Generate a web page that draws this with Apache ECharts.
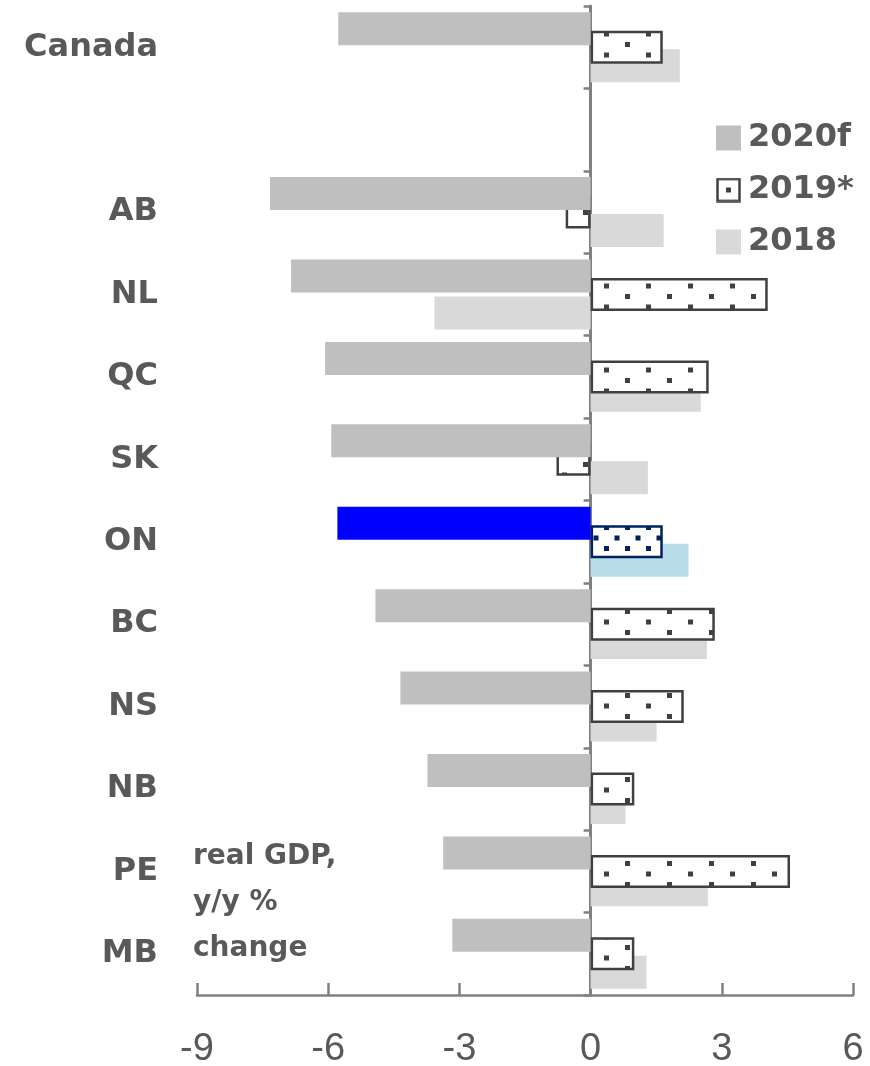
<!DOCTYPE html>
<html lang="en">
<head>
    <meta charset="UTF-8">
    <title>Provincial real GDP</title>
    <script src="https://cdn.jsdelivr.net/npm/echarts@6/dist/echarts.min.js"></script>
    <style>
        body { margin: 0; background: #fff; }
        #chart { width: 870px; height: 1066px; }
    </style>
</head>
<body>
<div id="chart"></div>
<script>
    // data (real GDP, y/y % change)
    var categories = ['Canada', '', 'AB', 'NL', 'QC', 'SK', 'ON', 'BC', 'NS', 'NB', 'PE', 'MB'];
    var gdp2020 = [-5.77, null, -7.33, -6.85, -6.07, -5.93, -5.79, -4.92, -4.35, -3.73, -3.37, -3.16];
    var gdp2019 = [1.65, null, -0.57, 4.05, 2.70, -0.78, 1.65, 2.84, 2.13, 1.0, 4.56, 1.0];
    var gdp2018 = [2.04, null, 1.67, -3.57, 2.52, 1.31, 2.24, 2.66, 1.51, 0.80, 2.68, 1.28];
    var seriesNames = ['2020f', '2019*', '2018'];
    var xTicks = { min: -9, max: 6, interval: 3 };
    var highlight = 'ON';

    var grey = '#595959';
    var axisGrey = '#808080';

    // dotted fill like the excel pattern
    function dotTile(w, h, color) {
        var c = document.createElement('canvas');
        c.width = w; c.height = h;
        var ctx = c.getContext('2d');
        ctx.fillStyle = '#ffffff';
        ctx.fillRect(0, 0, w, h);
        ctx.fillStyle = color;
        ctx.fillRect(w - 5, 0, 5, 5);
        ctx.fillRect(w / 2 - 5, h / 2, 5, 5);
        return c;
    }
    function legendIcon() {
        var c = document.createElement('canvas');
        c.width = 25; c.height = 25;
        var ctx = c.getContext('2d');
        ctx.fillStyle = '#ffffff';
        ctx.fillRect(0, 0, 25, 25);
        ctx.strokeStyle = '#404040';
        ctx.lineWidth = 2.5;
        ctx.strokeRect(1.5, 1.5, 22, 22);
        ctx.fillStyle = '#404040';
        ctx.fillRect(10, 10, 5, 5);
        return 'image://' + c.toDataURL();
    }

    var dotsGrey = { image: dotTile(42, 21, '#404040'), repeat: 'repeat' };
    var dotsNavy = { image: dotTile(21, 21, '#002060'), repeat: 'repeat' };

    function build(values, special) {
        var out = [];
        for (var i = 0; i < values.length; i++) {
            if (categories[i] === highlight) {
                out.push({ value: values[i], itemStyle: special });
            } else {
                out.push(values[i]);
            }
        }
        return out;
    }

    var chart = echarts.init(document.getElementById('chart'));
    var option = {
        animation: false,
        grid: { left: 197, right: 17, top: 6, bottom: 71, outerBoundsMode: 'none', containLabel: false },
        legend: {
            orient: 'vertical',
            left: 716,
            top: 122,
            padding: 0,
            itemWidth: 25,
            itemHeight: 25,
            itemGap: 20,
            textStyle: { color: grey, fontSize: 32, fontWeight: 'bold', fontFamily: 'DejaVu Sans', padding: [0, 0, 0, 2] },
            data: [
                { name: seriesNames[0], icon: 'rect', itemStyle: { color: '#bfbfbf', borderWidth: 0 } },
                { name: seriesNames[1], icon: legendIcon(), itemStyle: { borderWidth: 0 } },
                { name: seriesNames[2], icon: 'rect', itemStyle: { color: '#d9d9d9', borderWidth: 0 } }
            ]
        },
        xAxis: {
            type: 'value',
            min: xTicks.min,
            max: xTicks.max,
            interval: xTicks.interval,
            splitLine: { show: false },
            axisLine: { show: true, lineStyle: { color: axisGrey, width: 2.5 } },
            axisTick: { show: true, inside: true, length: 12, lineStyle: { color: axisGrey, width: 2.5 } },
            axisLabel: { color: grey, fontSize: 38, fontFamily: 'Liberation Sans', margin: 36 }
        },
        yAxis: {
            type: 'category',
            inverse: true,
            data: categories,
            axisLine: { onZero: true, lineStyle: { color: axisGrey, width: 3 } },
            axisTick: { show: true, length: 7, lineStyle: { color: axisGrey, width: 2.5 } },
            axisLabel: { color: grey, fontSize: 32, fontWeight: 'bold', fontFamily: 'DejaVu Sans', margin: 39 }
        },
        graphic: [{
            type: 'text',
            left: 193,
            top: 834,
            style: {
                text: 'real GDP,\ny/y %\nchange',
                fill: grey,
                font: 'bold 28px "DejaVu Sans"',
                lineHeight: 46
            }
        }],
        series: [
            {
                name: seriesNames[0], type: 'bar', z: 4,
                barWidth: 33, barGap: '-44%',
                itemStyle: { color: '#bfbfbf' },
                data: build(gdp2020, { color: '#0000ff' })
            },
            {
                name: seriesNames[1], type: 'bar', z: 3,
                barWidth: 33, barGap: '-44%',
                itemStyle: { color: dotsGrey, borderColor: '#404040', borderWidth: 2.5 },
                data: build(gdp2019, { color: dotsNavy, borderColor: '#002060', borderWidth: 2.5 })
            },
            {
                name: seriesNames[2], type: 'bar', z: 2,
                barWidth: 33, barGap: '-44%',
                itemStyle: { color: '#d9d9d9' },
                data: build(gdp2018, { color: '#b7dde8' })
            }
        ]
    };
    chart.setOption(option);
</script>
</body>
</html>
